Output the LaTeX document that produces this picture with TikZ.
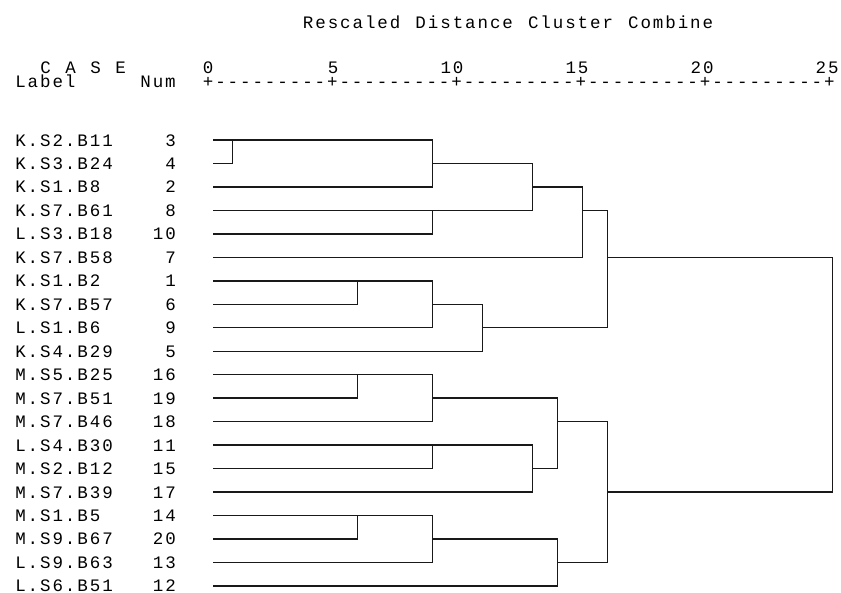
\documentclass[tikz,border=0pt]{standalone}
\usepackage{fontspec}
\newfontfamily\spssmono[LetterSpace=11]{Liberation Mono}
\begin{document}
\begin{tikzpicture}[x=1pt,y=-1pt,
  txt/.style={inner sep=0pt, outer sep=0pt, anchor=base west, font=\spssmono\fontsize{17.5}{20}\selectfont, text=black},
  link/.style={line width=1.4pt, draw=black!90, line join=miter, line cap=rect}]
\useasboundingbox (0,0) rectangle (841,592);
% title
\foreach \c/\w [count=\k] in {23/Rescaled, 32/Distance, 41/Cluster, 49/Combine}
  \node[txt] (title\k) at ({15.3+\c*12.506}, 28) {\w};
% header: C A S E
\foreach \c/\w [count=\k] in {2/C, 4/A, 6/S, 8/E}
  \node[txt] (case\k) at ({15.3+\c*12.506}, 73.5) {\w};
% axis numbers
\foreach \c/\w [count=\k] in {15/0, 25/5, 34/10, 44/15, 54/20, 64/25}
  \node[txt] (tick\k) at ({15.3+\c*12.506}, 73.5) {\w};
\node[txt] (hlabel) at (15.3, 87.5) {Label};
\node[txt] (hnum) at ({15.3+10*12.506}, 87.5) {Num};
\node[txt] (axis) at ({15.3+15*12.506}, 87) {+---------+---------+---------+---------+---------+};
% rows
\foreach \i/\lab/\num/\nc in {
  0/K.S2.B11/3/12, 1/K.S3.B24/4/12, 2/K.S1.B8/2/12, 3/K.S7.B61/8/12,
  4/L.S3.B18/10/11, 5/K.S7.B58/7/12, 6/K.S1.B2/1/12, 7/K.S7.B57/6/12,
  8/L.S1.B6/9/12, 9/K.S4.B29/5/12, 10/M.S5.B25/16/11, 11/M.S7.B51/19/11,
  12/M.S7.B46/18/11, 13/L.S4.B30/11/11, 14/M.S2.B12/15/11, 15/M.S7.B39/17/11,
  16/M.S1.B5/14/11, 17/M.S9.B67/20/11, 18/L.S9.B63/13/11, 19/L.S6.B51/12/11}{
  \node[txt] (lab\i) at (15.3, {146+\i*23.47}) {\lab};
  \node[txt] (num\i) at ({15.3+\nc*12.506}, {146+\i*23.47}) {\num};
  \coordinate (l\i) at (213.3, {140+\i*23.47});
}
% cluster joins
\foreach \n/\x/\r in {A/232.7/0, B/432.7/1, C/432.7/3, D/532.7/2, E/582.7/3,
  F/357.7/6, G/432.7/7, H/482.7/8, I/607.7/5, J/357.7/10, K/432.7/11,
  L/432.7/13, M/532.7/14, N/557.7/12, O/357.7/16, P/432.7/17, Q/557.7/18,
  R/607.7/15, S/832.7/10}
  \coordinate (\n) at (\x, {140+\r*23.47});
\foreach \a/\b/\x in {l0/l1/A, A/l2/B, l3/l4/C, B/C/D, D/l5/E,
  l6/l7/F, F/l8/G, G/l9/H, E/H/I, l10/l11/J, J/l12/K, l13/l14/L,
  L/l15/M, K/M/N, l16/l17/O, O/l18/P, P/l19/Q, N/Q/R, I/R/S}
  \draw[link] (\a) -- (\a -| \x) -- (\b -| \x) -- (\b);
\end{tikzpicture}
\end{document}
